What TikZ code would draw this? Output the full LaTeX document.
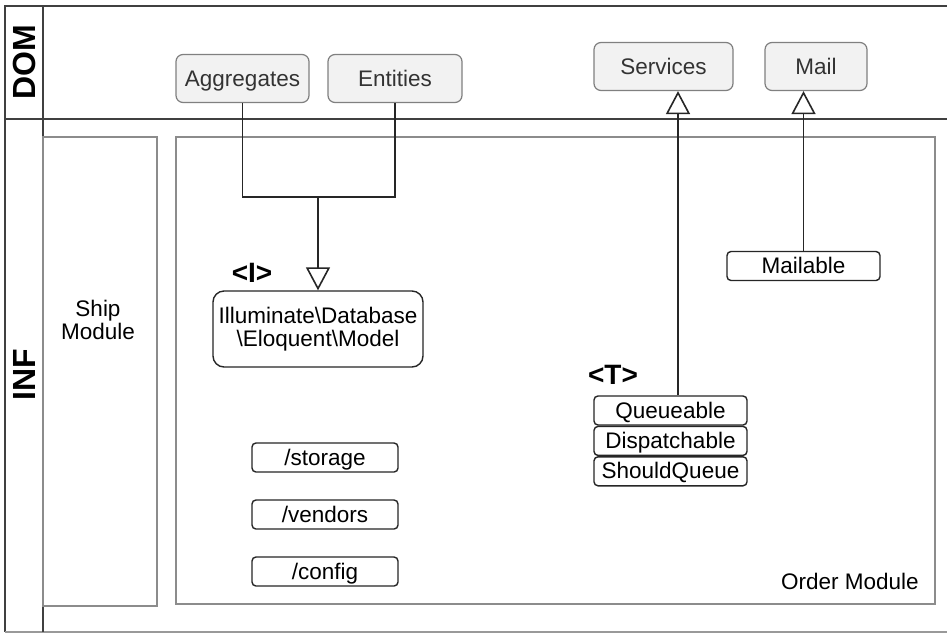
\documentclass[tikz,border=0pt]{standalone}
\usepackage{fontspec}
\setmainfont{Liberation Sans}
\usetikzlibrary{arrows.meta,positioning}
\tikzset{
  lane/.style   ={draw=black!75, line width=1.6pt},
  module/.style ={draw=black!45, line width=1.5pt},
  domS/.style   ={draw=black!50, fill=black!5, text=black!80, rounded corners=7pt, line width=1.2pt, minimum height=48pt, text height=16pt, text depth=0pt},
  infS/.style   ={draw=black!85, rounded corners=4pt, line width=1.4pt, minimum width=153pt, minimum height=29pt, inner sep=0pt, text height=16pt, text depth=1pt},
  dirS/.style   ={infS, minimum width=146pt},
  tag/.style    ={font=\fontsize{28}{30}\selectfont\bfseries},
  lanetxt/.style={font=\fontsize{32}{34}\selectfont\bfseries, rotate=90},
  wire/.style   ={draw=black!85, line width=1.6pt},
  impl/.style   ={wire, -{Triangle[open, width=24pt, length=23pt, line width=1.6pt]}},
}

\begin{document}
\begin{tikzpicture}[x=1pt, y=-1pt, font=\fontsize{22.5}{26}\selectfont]
  \useasboundingbox[fill=white] (0,0) rectangle (947,633);
  % swimlanes
  \draw[lane] (947,6) -- (5,6) -- (5,632);
  \draw[lane, draw=black!40] (5,632) -- (947,632);
  \draw[lane] (5,119) -- (947,119);
  \draw[lane] (43,6) -- (43,632);
  \node[lanetxt] (domlbl) at (24,62) {DOM};
  \node[lanetxt] (inflbl) at (24,375) {INF};
  % modules
  \draw[module] (43,137) rectangle (157,606);
  \draw[module] (176,137) rectangle (935,604);
  \node[align=center] (ship) at (98,320) {Ship\\[-3pt]Module};
  \node (order) at (850,581) {Order Module};
  % domain
  \node[domS, minimum width=133pt] (agg)  at (242.5,78.5) {Aggregates};
  \node[domS, minimum width=134pt] (ent)  at (395,78.5)   {Entities};
  \node[domS, minimum width=139pt] (srv)  at (663.5,66.5) {Services};
  \node[domS, minimum width=102pt] (mail) at (816,66.5)   {Mail};
  % infrastructure
  \node[infS, rounded corners=11pt, minimum width=210pt, minimum height=76pt, align=center, text height=, text depth=]
    (model) at (318,329) {Illuminate\textbackslash Database\\[-3pt]\textbackslash Eloquent\textbackslash Model};
  \node[tag] (itag) at (252,273) {<I>};
  \node[infS] (mailable) at (803.5,266) {Mailable};
  \node[infS] (que) at (670.5,410.5) {Queueable};
  \node[infS, below=0pt of que] (dsp) {Dispatchable};
  \node[infS, below=0pt of dsp] (sq)  {ShouldQueue};
  \node[tag] (ttag) at (613,375) {<T>};
  \node[dirS] (storage) at (325,457.5) {/storage};
  \node[dirS] (vendors) at (325,514.5) {/vendors};
  \node[dirS] (config)  at (325,571.5) {/config};
  % connectors
  \coordinate (jn) at (318,197);
  \draw[wire] (agg.south) |- (ent.south |- jn) -- (ent.south);
  \draw[impl] (jn) -- (model.north);
  \draw[impl] ([xshift=7.5pt]que.north) -- ([xshift=7.5pt]que.north |- srv.south);
  \draw[impl] (mailable.north) -- (mailable.north |- mail.south);
\end{tikzpicture}
\end{document}
